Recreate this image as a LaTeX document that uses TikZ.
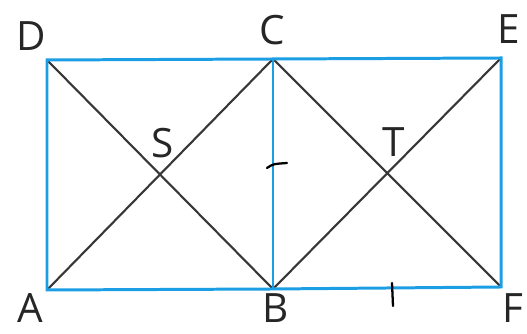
\documentclass[tikz,border=0pt]{standalone}
\usepackage{fontspec}
\setmainfont{Open Sans}
\definecolor{edgeblue}{RGB}{28,158,228}
\definecolor{diaggray}{RGB}{55,55,55}
\tikzset{
  side/.style={draw=edgeblue,line width=1.7pt},
  diag/.style={draw=diaggray,line width=1.2pt},
  tick/.style={draw=black,line width=1.3pt,line cap=round},
  lbl/.style={font=\fontsize{23}{26}\selectfont,inner sep=0pt,anchor=base,text=black!85}
}
\begin{document}
\begin{tikzpicture}
                    \path[use as bounding box] (0,0) rectangle (10.54,6.68);
                    \coordinate (D) at (0.94,5.48);
                    \coordinate (C) at (5.46,5.50);
                    \coordinate (E) at (10.02,5.52);
                    \coordinate (A) at (0.94,0.88);
                    \coordinate (B) at (5.46,0.90);
                    \coordinate (F) at (10.02,0.94);
                    \draw[diag] (D) -- (B) (A) -- (C) (C) -- (F) (B) -- (E);
                    \draw[side] (A) -- (B) -- (F) -- (E) -- (C) -- (D) -- cycle;
                    \draw[side] (C) -- (B);
                    \node[lbl] (lD) at (0.62,5.66) {D};
                    \node[lbl] (lC) at (5.44,5.78) {C};
                    \node[lbl] (lE) at (10.18,5.80) {E};
                    \node[lbl] (lS) at (3.25,3.52) {S};
                    \node[lbl] (lT) at (7.88,3.54) {T};
                    \node[lbl] (lA) at (0.60,0.22) {A};
                    \node[lbl] (lB) at (5.52,0.22) {B};
                    \node[lbl] (lF) at (10.26,0.22) {F};
                    \coordinate (t1) at (5.34,3.32);
                    \coordinate (t2) at (5.74,3.42);
                    \draw[tick] (t1) .. controls (5.46,3.40) .. (t2);
                    \coordinate (t3) at (7.84,1.02);
                    \coordinate (t4) at (7.86,0.56);
                    \draw[tick] (t3) -- (t4);
                \end{tikzpicture}
\end{document}
